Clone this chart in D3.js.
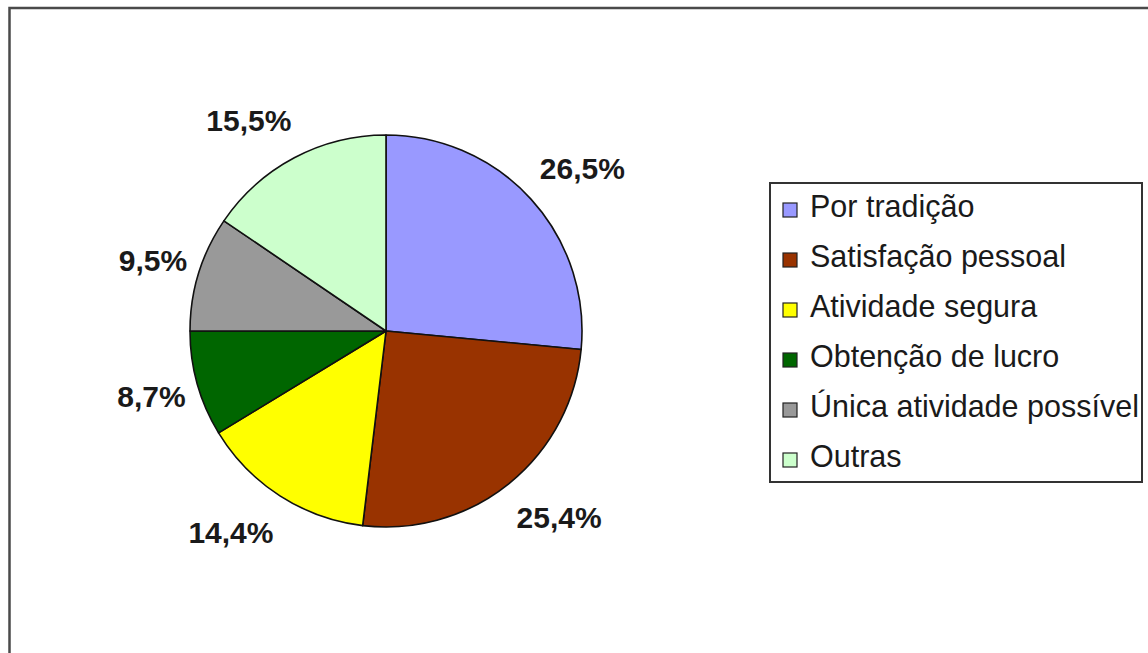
<!DOCTYPE html>
<html>
<head>
<meta charset="utf-8">
<script src="https://cdn.jsdelivr.net/npm/d3@7"></script>
<style>
  html, body { margin: 0; padding: 0; background: #fff; }
  svg { display: block; }
</style>
</head>
<body>
<svg id="chart" width="1148" height="653"></svg>
<script>
// Motivos para a atividade (%)
const categories = ["Por tradição", "Satisfação pessoal", "Atividade segura", "Obtenção de lucro", "Única atividade possível", "Outras"];
const values = [26.5, 25.4, 14.4, 8.7, 9.5, 15.5];
const valueLabels = ["26,5%", "25,4%", "14,4%", "8,7%", "9,5%", "15,5%"];
const colors = ["#9999ff", "#993300", "#ffff00", "#006600", "#999999", "#ccffcc"];

const svg = d3.select("#chart");
const font = "'Liberation Sans', Arial, sans-serif";

// outer frame
svg.append("rect")
  .attr("x", 9.5).attr("y", 8)
  .attr("width", 1160).attr("height", 680)
  .attr("fill", "#fff")
  .attr("stroke", "#4a4a4a").attr("stroke-width", 2.5);

const cx = 386, cy = 331, R = 196;
const anchorRx = 208, anchorRy = 226;   // ellipse on which each label's near corner sits
const labelSize = 30;

const data = categories.map((c, i) => ({ cat: c, value: values[i], label: valueLabels[i], color: colors[i] }));

const pie = d3.pie().sort(null).value(d => d.value);
const arcs = pie(data);
const arc = d3.arc().innerRadius(0).outerRadius(R);

const g = svg.append("g").attr("transform", `translate(${cx},${cy})`);

g.selectAll("path.slice")
  .data(arcs)
  .join("path")
  .attr("class", "slice")
  .attr("d", arc)
  .attr("fill", d => d.data.color)
  .attr("stroke", "#111")
  .attr("stroke-width", 1.6)
  .attr("stroke-linejoin", "round");

const clamp = v => Math.max(-1, Math.min(1, v));

// percentage labels outside the pie, box corner anchored toward the slice
const labels = g.selectAll("text.pct")
  .data(arcs)
  .join("text")
  .attr("class", "pct")
  .attr("text-anchor", "middle")
  .attr("font-family", font)
  .attr("font-weight", "bold")
  .attr("font-size", labelSize)
  .attr("fill", "#1a1a1a")
  .text(d => d.data.label);

labels.each(function (d) {
  const a = (d.startAngle + d.endAngle) / 2;
  const s = Math.sin(a), c = Math.cos(a);
  const hw = this.getComputedTextLength() / 2;
  const hh = labelSize * 0.716 / 2;
  const px = anchorRx * s, py = -anchorRy * c;
  const x = px + clamp(2 * s) * hw;
  const yc = py - clamp(1.5 * c) * hh;
  d3.select(this).attr("x", x).attr("y", yc + hh);
});

// legend
const legend = svg.append("g").attr("transform", "translate(770,183)");
legend.append("rect")
  .attr("width", 372).attr("height", 299)
  .attr("fill", "#fff")
  .attr("stroke", "#333").attr("stroke-width", 2);

const rowY = d3.scalePoint().domain(categories).range([34, 284]);

const rows = legend.selectAll("g.item")
  .data(data)
  .join("g")
  .attr("class", "item")
  .attr("transform", d => `translate(0,${rowY(d.cat)})`);

rows.append("rect")
  .attr("x", 13).attr("y", -14)
  .attr("width", 14).attr("height", 14)
  .attr("fill", d => d.color)
  .attr("stroke", "#222").attr("stroke-width", 1.2);

rows.append("text")
  .attr("x", 40)
  .attr("font-family", font)
  .attr("font-size", 30.5)
  .attr("fill", "#1a1a1a")
  .text(d => d.cat);
</script>
</body>
</html>
